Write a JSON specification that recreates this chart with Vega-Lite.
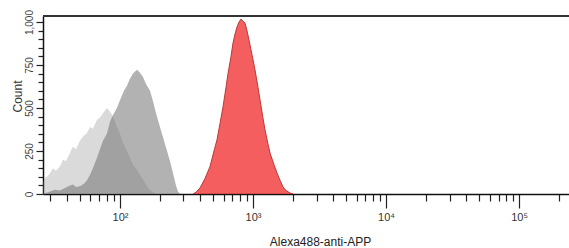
{
  "$schema": "https://vega.github.io/schema/vega-lite/v6.json",
  "width": 526,
  "height": 178,
  "autosize": {"type": "none"},
  "padding": {"left": 43, "top": 16, "right": 0, "bottom": 54},
  "background": "white",
  "config": {"view": {"stroke": null}, "font": "Liberation Sans"},
  "datasets": {
    "hist": [
      {"s": "A", "i": 26.5, "c": 70}, {"s": "A", "i": 27.3, "c": 95}, {"s": "A", "i": 28.3, "c": 100}, {"s": "A", "i": 29.8, "c": 120},
      {"s": "A", "i": 31.4, "c": 150}, {"s": "A", "i": 33.0, "c": 135}, {"s": "A", "i": 35.4, "c": 160}, {"s": "A", "i": 37.3, "c": 200},
      {"s": "A", "i": 39.3, "c": 190}, {"s": "A", "i": 42.1, "c": 240}, {"s": "A", "i": 44.3, "c": 275}, {"s": "A", "i": 46.7, "c": 260},
      {"s": "A", "i": 50.0, "c": 310}, {"s": "A", "i": 53.6, "c": 340}, {"s": "A", "i": 56.5, "c": 355}, {"s": "A", "i": 59.5, "c": 390},
      {"s": "A", "i": 62.6, "c": 380}, {"s": "A", "i": 67.1, "c": 430}, {"s": "A", "i": 70.7, "c": 445}, {"s": "A", "i": 74.5, "c": 470},
      {"s": "A", "i": 79.8, "c": 500}, {"s": "A", "i": 84.1, "c": 480}, {"s": "A", "i": 88.6, "c": 450}, {"s": "A", "i": 94.9, "c": 390},
      {"s": "A", "i": 100, "c": 350}, {"s": "A", "i": 105.3, "c": 300}, {"s": "A", "i": 112.9, "c": 250}, {"s": "A", "i": 118.9, "c": 210},
      {"s": "A", "i": 125.3, "c": 170}, {"s": "A", "i": 134.3, "c": 140}, {"s": "A", "i": 141.5, "c": 110}, {"s": "A", "i": 151.5, "c": 75},
      {"s": "A", "i": 159.7, "c": 45}, {"s": "A", "i": 168.2, "c": 23}, {"s": "A", "i": 177.2, "c": 8}, {"s": "A", "i": 186.6, "c": 0},

      {"s": "B", "i": 27.3, "c": 5}, {"s": "B", "i": 29.8, "c": 15}, {"s": "B", "i": 32.5, "c": 25}, {"s": "B", "i": 35.4, "c": 20},
      {"s": "B", "i": 38.6, "c": 35}, {"s": "B", "i": 42.1, "c": 50}, {"s": "B", "i": 44.3, "c": 55}, {"s": "B", "i": 46.7, "c": 40},
      {"s": "B", "i": 50.0, "c": 45}, {"s": "B", "i": 53.6, "c": 60}, {"s": "B", "i": 56.5, "c": 80}, {"s": "B", "i": 59.5, "c": 110},
      {"s": "B", "i": 62.6, "c": 150}, {"s": "B", "i": 67.1, "c": 210}, {"s": "B", "i": 70.7, "c": 260}, {"s": "B", "i": 74.5, "c": 310},
      {"s": "B", "i": 79.8, "c": 350}, {"s": "B", "i": 84.1, "c": 420}, {"s": "B", "i": 88.6, "c": 460}, {"s": "B", "i": 94.9, "c": 500},
      {"s": "B", "i": 100, "c": 545}, {"s": "B", "i": 107.2, "c": 600}, {"s": "B", "i": 112.9, "c": 630}, {"s": "B", "i": 118.9, "c": 670},
      {"s": "B", "i": 125.3, "c": 700}, {"s": "B", "i": 134.3, "c": 722}, {"s": "B", "i": 141.5, "c": 705}, {"s": "B", "i": 149.0, "c": 680},
      {"s": "B", "i": 156.9, "c": 640}, {"s": "B", "i": 168.2, "c": 600}, {"s": "B", "i": 177.2, "c": 540}, {"s": "B", "i": 186.6, "c": 470},
      {"s": "B", "i": 199.9, "c": 390}, {"s": "B", "i": 210.5, "c": 330}, {"s": "B", "i": 221.8, "c": 270}, {"s": "B", "i": 237.7, "c": 190},
      {"s": "B", "i": 250.4, "c": 120}, {"s": "B", "i": 263.7, "c": 50}, {"s": "B", "i": 273.0, "c": 15}, {"s": "B", "i": 282.6, "c": 0},

      {"s": "C", "i": 353.9, "c": 0}, {"s": "C", "i": 372.8, "c": 10}, {"s": "C", "i": 399.5, "c": 35}, {"s": "C", "i": 435.6, "c": 90},
      {"s": "C", "i": 475.1, "c": 160}, {"s": "C", "i": 509.0, "c": 250}, {"s": "C", "i": 536.1, "c": 315}, {"s": "C", "i": 564.7, "c": 410},
      {"s": "C", "i": 594.8, "c": 506}, {"s": "C", "i": 626.5, "c": 620}, {"s": "C", "i": 648.6, "c": 700}, {"s": "C", "i": 683.2, "c": 800},
      {"s": "C", "i": 707.3, "c": 878}, {"s": "C", "i": 732.2, "c": 930}, {"s": "C", "i": 757.9, "c": 971}, {"s": "C", "i": 784.6, "c": 1000},
      {"s": "C", "i": 812.2, "c": 1017}, {"s": "C", "i": 840.8, "c": 1005}, {"s": "C", "i": 870.4, "c": 994}, {"s": "C", "i": 901.1, "c": 950},
      {"s": "C", "i": 932.8, "c": 895}, {"s": "C", "i": 982.8, "c": 810}, {"s": "C", "i": 1035.3, "c": 721}, {"s": "C", "i": 1090.6, "c": 620},
      {"s": "C", "i": 1128.9, "c": 547}, {"s": "C", "i": 1189.2, "c": 440}, {"s": "C", "i": 1231.1, "c": 372}, {"s": "C", "i": 1296.8, "c": 290},
      {"s": "C", "i": 1342.4, "c": 238}, {"s": "C", "i": 1438.5, "c": 170}, {"s": "C", "i": 1515.3, "c": 122}, {"s": "C", "i": 1596.1, "c": 80},
      {"s": "C", "i": 1681.3, "c": 41}, {"s": "C", "i": 1771.1, "c": 20}, {"s": "C", "i": 1897.6, "c": 6}, {"s": "C", "i": 1998.8, "c": 0}
    ]
  },
  "data": {"name": "hist"},
  "encoding": {
    "x": {
      "field": "i", "type": "quantitative",
      "scale": {"type": "log", "domain": [26.4, 237000], "nice": false},
      "title": "Alexa488-anti-APP",
      "axis": {
        "values": [30, 40, 50, 60, 70, 80, 90, 100, 200, 300, 400, 500, 600, 700, 800, 900, 1000, 2000, 3000, 4000, 5000, 6000, 7000, 8000, 9000, 10000, 20000, 30000, 40000, 50000, 60000, 70000, 80000, 90000, 100000, 200000],
        "labelExpr": "datum.value == 100 ? '10²' : datum.value == 1000 ? '10³' : datum.value == 10000 ? '10⁴' : datum.value == 100000 ? '10⁵' : ''",
        "tickSize": {"condition": {"test": "datum.value == 100 || datum.value == 1000 || datum.value == 10000 || datum.value == 100000", "value": 14}, "value": 7},
        "tickColor": "#222", "tickWidth": 1.2,
        "domainColor": "#111", "domainWidth": 1.5,
        "grid": false,
        "labelFontSize": 11, "labelColor": "#333", "labelPadding": 3, "labelFlush": false, "labelOverlap": false,
        "titleFontSize": 12, "titleFontWeight": "normal", "titleColor": "#222",
        "titleX": 277, "titleY": 51, "titleAlign": "center", "titleBaseline": "alphabetic"
      }
    },
    "y": {
      "field": "c", "type": "quantitative",
      "scale": {"domain": [0, 1035], "nice": false},
      "stack": null,
      "title": "Count",
      "axis": {
        "values": [0, 50, 100, 150, 200, 250, 300, 350, 400, 450, 500, 550, 600, 650, 700, 750, 800, 850, 900, 950, 1000],
        "labelExpr": "datum.value % 250 == 0 ? format(datum.value, ',') : ''",
        "labelAngle": -90, "labelAlign": "center", "labelBaseline": "bottom",
        "tickSize": {"condition": {"test": "datum.value % 250 == 0", "value": 7}, "value": 5},
        "tickColor": "#222", "tickWidth": 1.2,
        "domainColor": "#111", "domainWidth": 1.5,
        "grid": false,
        "labelFontSize": 10, "labelColor": "#444", "labelPadding": 2, "labelOverlap": false, "labelFlush": false,
        "titleFontSize": 12, "titleFontWeight": "normal", "titleColor": "#333",
        "titleX": -22, "titleY": 80, "titleAngle": -90, "titleAlign": "center", "titleBaseline": "alphabetic"
      }
    }
  },
  "layer": [
    {
      "transform": [{"filter": "datum.s === 'A'"}],
      "mark": {"type": "area", "color": "#909090", "fillOpacity": 0.33, "clip": true}
    },
    {
      "transform": [{"filter": "datum.s === 'B'"}],
      "mark": {"type": "area", "color": "#727272", "fillOpacity": 0.55, "clip": true}
    },
    {
      "transform": [{"filter": "datum.s === 'C'"}],
      "mark": {"type": "area", "color": "#f45e5e", "fillOpacity": 1, "stroke": "#b83a3a", "strokeWidth": 1, "clip": true}
    },
    {
      "data": {"values": [{"top": 1035}]},
      "mark": {"type": "rule", "color": "#333", "strokeWidth": 2},
      "encoding": {"y": {"field": "top", "type": "quantitative"}, "x": null}
    }
  ]
}
